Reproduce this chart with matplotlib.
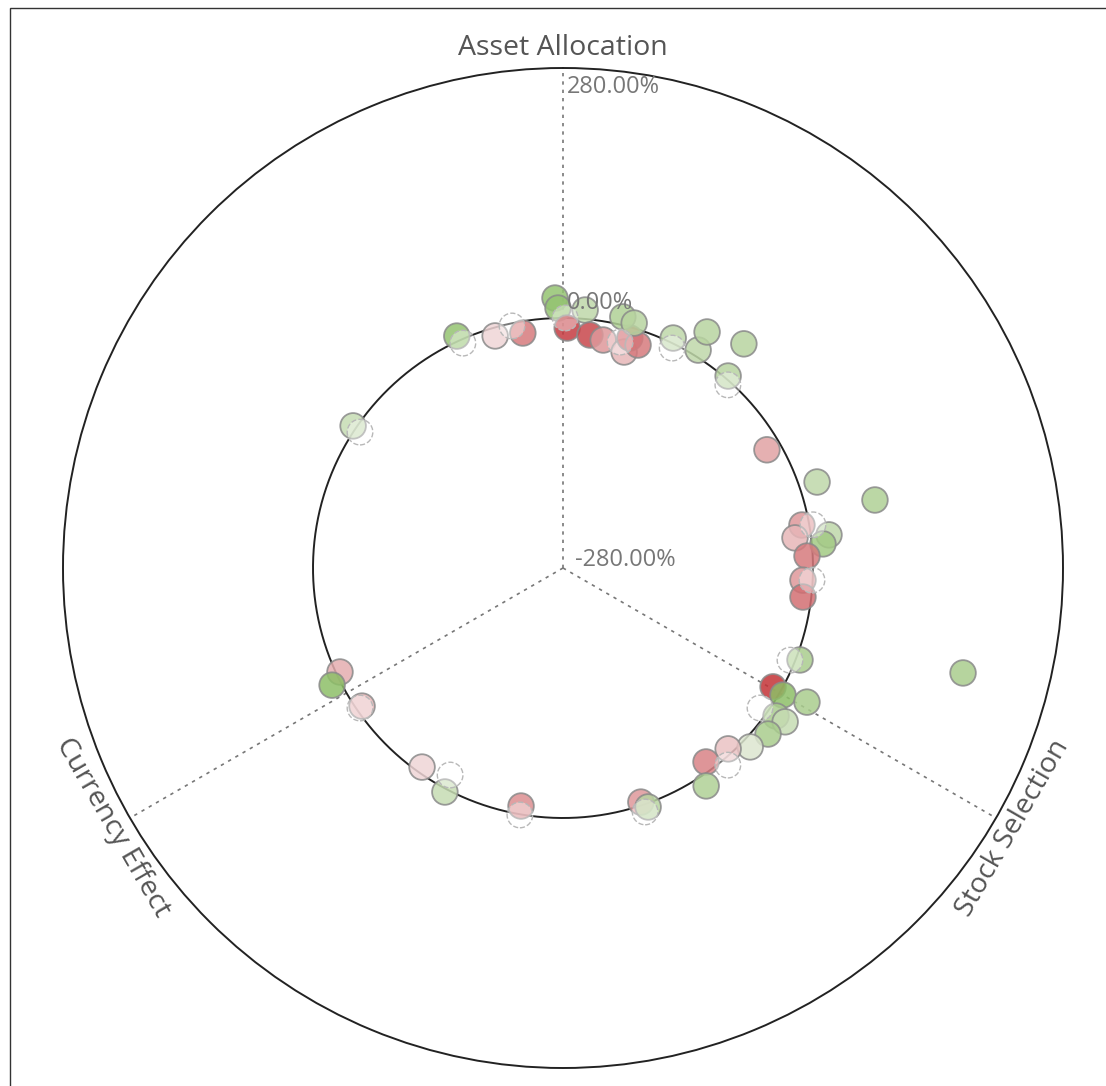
import matplotlib
matplotlib.use('Agg')
import matplotlib.pyplot as plt
import numpy as np
from matplotlib.colors import LinearSegmentedColormap, Normalize
from matplotlib.patches import Rectangle

plt.rcParams['font.family'] = ['Open Sans', 'DejaVu Sans']

axis_names = ['Asset Allocation', 'Stock Selection', 'Currency Effect']
axis_angles = [0, 120, 240]
r_min, r_max = -280, 280

# points: direction (deg, clockwise from top), total return (%), colour score (-1 red .. 1 green)
angle = [358.3, 358.9, 4.9, 335.4, 343.7, 350.3, 1.0, 6.6, 10.0, 15.8,
         16.2, 18.6, 13.4, 16.2, 25.6, 31.8, 31.4, 38.9, 40.7, 59.9,
         71.3, 77.7, 79.8, 82.6, 82.9, 84.7, 87.2, 92.9, 96.9, 111.2,
         119.5, 120.0, 118.8, 124.8, 124.7, 129.0, 133.7, 137.6, 143.6, 146.7,
         104.7, 245.0, 243.1, 235.5, 215.3, 207.8, 190.0, 161.6, 160.4, 304.1]
value = [22.5, 11.2, 10.0, 5.7, -9.2, -13.0, -11.2, -17.3, -20.7, -28.6,
         -11.7, -16.5, 9.1, 5.7, 5.6, 7.2, 29.7, 42.6, 3.6, -16.0,
         20.4, 77.6, -8.1, -18.0, 20.2, 12.4, -6.4, -10.9, -9.3, 4.7,
         -9.7, 4.5, 31.8, 10.5, 22.6, 15.5, 10.0, -5.7, -10.1, 12.0,
         183.2, -4.4, 10.0, -6.9, -6.8, 3.6, -9.3, -3.7, 4.1, 3.9]
score = [0.7, 0.7, 0.4, 0.7, -0.15, -0.6, -0.9, -0.85, -0.45, -0.3,
         -0.75, -0.6, 0.5, 0.45, 0.4, 0.4, 0.45, 0.45, 0.45, -0.4,
         0.4, 0.5, -0.45, -0.3, 0.4, 0.6, -0.6, -0.45, -0.65, 0.55,
         -0.95, 0.75, 0.55, 0.55, 0.35, 0.55, 0.2, -0.25, -0.55, 0.5,
         0.55, -0.35, 0.75, -0.3, -0.15, 0.35, -0.5, -0.45, 0.45, 0.35]

# previous positions (dashed ghosts)
ghost_angle = [348.1, 336.0, 26.4, 42.0, 80.2, 92.8, 112.1, 125.4, 140.1,
               208.6, 189.9, 161.4, 235.4, 303.8, 0.5, 14.2]
ghost_value = [-3.0, -4.3, -5.0, -4.0, 4.1, -0.8, -5.6, -9.3, 7.8,
               -15.9, 0.8, 8.3, -3.8, -6.4, 0.0, -19.0]

tick_values = [280, 0, -280]
tick_labels = ['280.00%', '0.00%', '-280.00%']

fig = plt.figure(figsize=(11.06, 10.86), dpi=100)
ax = fig.add_axes([63 / 1106, 18 / 1086, 1000 / 1106, 1000 / 1086], projection='polar')
ax.set_theta_zero_location('N')
ax.set_theta_direction(-1)
ax.set_ylim(r_min, r_max)
ax.grid(False)
ax.set_xticks([])
ax.set_yticks([])
ax.spines['polar'].set_color('#222222')
ax.spines['polar'].set_linewidth(1.4)

# inner zero circle
th = np.linspace(0, 2 * np.pi, 400)
ax.plot(th, np.zeros_like(th), color='#222222', lw=1.4, zorder=2)

# dotted axis lines and labels
rot = {0: 0, 120: 60, 240: -60}
for name, a in zip(axis_names, axis_angles):
    t = np.deg2rad(a)
    ax.plot([t, t], [r_min, r_max], color='#777777', lw=1.2,
            linestyle=(0, (2, 3)), zorder=1)
    ax.text(t, 302, name, rotation=rot[a], ha='center', va='center',
            fontsize=20.5, color='#555555', rotation_mode='anchor', clip_on=False)

# tick labels on the top axis
offsets = {280: (4, -19), 0: (4, 15), -280: (12, 8)}
for v, lab in zip(tick_values, tick_labels):
    ax.annotate(lab, xy=(0, v), xytext=offsets[v], textcoords='offset pixels',
                ha='left', va='center', fontsize=17, color='#777777', zorder=6)

cmap = LinearSegmentedColormap.from_list('rg', ['#c0282d', '#f8f4f4', '#6aae3a'])
norm = Normalize(-1, 1)
ax.scatter(np.deg2rad(angle), value, s=340, c=score, cmap=cmap, norm=norm,
           edgecolors='#8a8a8a', linewidths=1.3, alpha=0.85, zorder=3, clip_on=False)
ax.scatter(np.deg2rad(ghost_angle), ghost_value, s=340, facecolors=(1, 1, 1, 0.4),
           edgecolors='#b8b8b8', linewidths=1.0, linestyles='--', zorder=4)

# page frame
fig.add_artist(Rectangle((10 / 1106, -0.1), 1.2, 1 - 8 / 1086 + 0.1,
                         transform=fig.transFigure, fill=False,
                         edgecolor='#333333', lw=1))

fig.savefig('out.png', dpi=100)
